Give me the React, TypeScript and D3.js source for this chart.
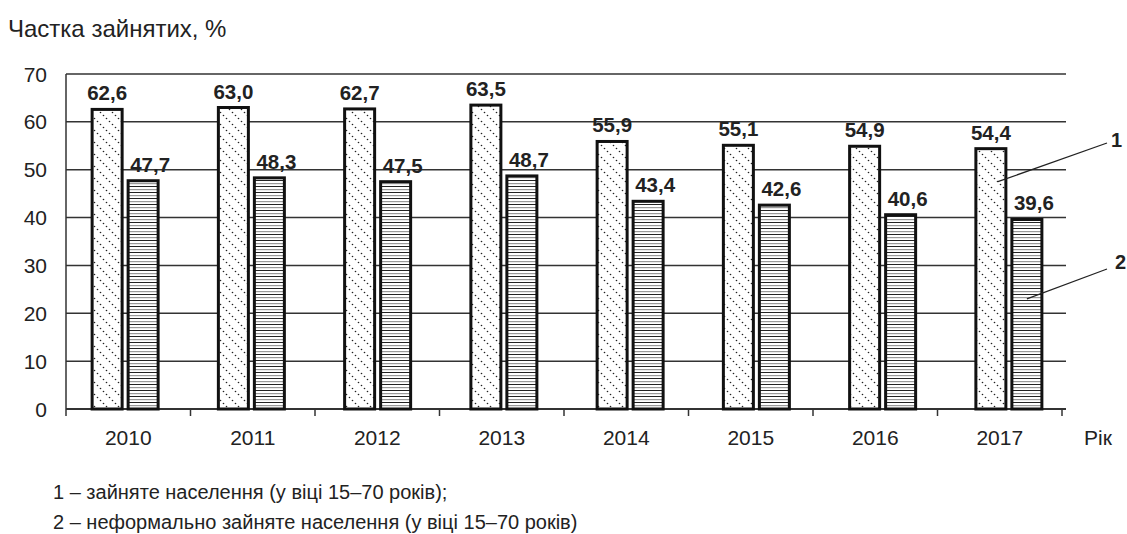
import React from "react";
import * as d3 from "d3";

const years = ["2010", "2011", "2012", "2013", "2014", "2015", "2016", "2017"];
const employed = [62.6, 63.0, 62.7, 63.5, 55.9, 55.1, 54.9, 54.4];
const informal = [47.7, 48.3, 47.5, 48.7, 43.4, 42.6, 40.6, 39.6];
const yTicks = [0, 10, 20, 30, 40, 50, 60, 70];
const titleText = "Частка зайнятих, %";
const xAxisLabel = "Рік";
const notes = [
  "1 – зайняте населення (у віці 15–70 років);",
  "2 – неформально зайняте населення (у віці 15–70 років)",
];

const W = 1127;
const H = 534;
const FONT = "'Liberation Sans', Arial, sans-serif";

export default function App() {
  const x = d3.scaleBand<string>().domain(years).range([66, 1062]).padding(0);
  const xb = d3.scaleBand<string>().domain(years).range([62, 1072]).padding(0);
  const y = d3.scaleLinear().domain([0, 70]).range([409, 74]);
  const fmt = (v: number) => v.toFixed(1).replace(".", ",");
  const barW = 30;
  const gap = 3;
  const center = (yr: string) => (xb(yr) as number) + xb.bandwidth() / 2;
  const last = years[years.length - 1];
  const b1x = center(last) - gap - barW;
  const b2x = center(last) + gap;

  return (
    <svg
      width={W}
      height={H}
      style={{ position: "absolute", left: 0, top: 0, background: "#fff" }}
      fontFamily={FONT}
    >
      <defs>
        <pattern id="diag" patternUnits="userSpaceOnUse" width={12} height={12}>
          <rect width={12} height={12} fill="#fff" />
          {[1.5, 4.5, 7.5, 10.5].map((d) => (
            <circle key={d} cx={d} cy={d} r={0.8} fill="#222" />
          ))}
        </pattern>
        <pattern id="horiz" patternUnits="userSpaceOnUse" width={6} height={6}>
          <rect width={6} height={6} fill="#fff" />
          <rect x={0} y={0} width={6} height={1} fill="#222" />
          <rect x={0} y={3} width={6} height={1.2} fill="#999" />
        </pattern>
      </defs>

      <text x={8} y={37} fontSize={24} fill="#222">{titleText}</text>

      {/* gridlines */}
      {yTicks.map((t) => (
        <line
          key={t}
          x1={66}
          x2={1066}
          y1={y(t)}
          y2={y(t)}
          stroke="#333"
          strokeWidth={t === 0 ? 2 : 1.5}
        />
      ))}
      {/* y axis line */}
      <line x1={66} x2={66} y1={y(70)} y2={y(0)} stroke="#333" strokeWidth={1.5} />
      {/* y tick labels */}
      {yTicks.map((t) => (
        <text key={t} x={47} y={y(t) + 7.5} textAnchor="end" fontSize={21} fill="#222">
          {t}
        </text>
      ))}
      {/* x ticks */}
      {[...years.map((yr) => x(yr) as number), 1062].map((px, i) => (
        <line key={i} x1={px} x2={px} y1={y(0)} y2={y(0) + 7} stroke="#333" strokeWidth={1.5} />
      ))}
      {years.map((yr) => (
        <text
          key={yr}
          x={(x(yr) as number) + x.bandwidth() / 2}
          y={445}
          textAnchor="middle"
          fontSize={21}
          fill="#222"
        >
          {yr}
        </text>
      ))}
      <text x={1084} y={445} fontSize={21} fill="#222">{xAxisLabel}</text>

      {/* bars */}
      {years.map((yr, i) => {
        const c = center(yr);
        const v1 = employed[i];
        const v2 = informal[i];
        return (
          <g key={yr}>
            <rect
              x={c - gap - barW}
              y={y(v1)}
              width={barW}
              height={y(0) - y(v1)}
              fill="url(#diag)"
              stroke="#111"
              strokeWidth={3}
            />
            <rect
              x={c + gap}
              y={y(v2)}
              width={barW}
              height={y(0) - y(v2)}
              fill="url(#horiz)"
              stroke="#111"
              strokeWidth={3}
            />
            <text
              x={c - gap - barW / 2}
              y={y(v1) - 9}
              textAnchor="middle"
              fontSize={20.5}
              fontWeight="bold"
              fill="#222"
            >
              {fmt(v1)}
            </text>
            <text
              x={c + gap + barW / 2 + 7}
              y={y(v2) - 9}
              textAnchor="middle"
              fontSize={20.5}
              fontWeight="bold"
              fill="#222"
            >
              {fmt(v2)}
            </text>
          </g>
        );
      })}

      {/* leader lines */}
      <line x1={1107} y1={143} x2={b1x + 22} y2={y(47.5)} stroke="#222" strokeWidth={1.2} />
      <line x1={1107} y1={269} x2={b2x + barW / 2} y2={y(23)} stroke="#222" strokeWidth={1.2} />
      <text x={1111} y={147} fontSize={20} fontWeight="bold" fill="#222">1</text>
      <text x={1115} y={269} fontSize={20} fontWeight="bold" fill="#222">2</text>

      {notes.map((n, i) => (
        <text key={i} x={53} y={499 + i * 30} fontSize={20} fill="#222">
          {n}
        </text>
      ))}
    </svg>
  );
}
